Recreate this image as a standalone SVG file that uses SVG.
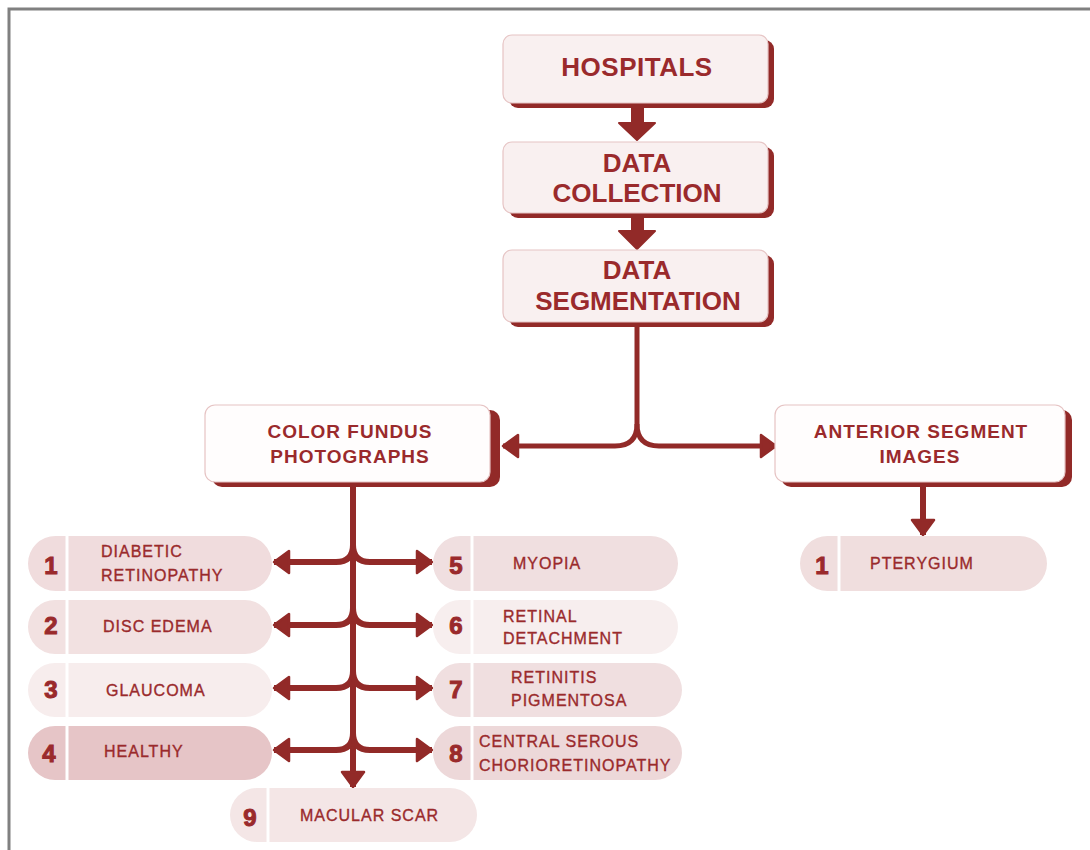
<svg xmlns="http://www.w3.org/2000/svg" width="1090" height="850" viewBox="0 0 1090 850">
<style>
.bg{fill:#ffffff}
.frame{fill:none;stroke:#808080;stroke-width:3}
.shadow{fill:#922A28}
.box{fill:#F9F0F0;stroke:#E6C4C4;stroke-width:1.2}
.boxw{fill:#FFFDFD;stroke:#E6C4C4;stroke-width:1.2}
.hd{font-family:"Liberation Sans",Arial,sans-serif;font-weight:bold;font-size:26px;fill:#9A2A2C;text-anchor:middle}
.hd2{font-family:"Liberation Sans",Arial,sans-serif;font-weight:bold;font-size:19px;letter-spacing:1px;fill:#9A2A2C;text-anchor:middle}
.num{font-family:"Liberation Sans",Arial,sans-serif;font-weight:bold;font-size:24px;fill:#9A2A2C;stroke:#9A2A2C;stroke-width:1;text-anchor:middle}
.lbl{font-family:"Liberation Sans",Arial,sans-serif;font-size:16px;letter-spacing:1px;fill:#9A2A2C;stroke:#9A2A2C;stroke-width:0.35}
.div{stroke:#ffffff;stroke-width:3}
.con{fill:none;stroke:#922A28;stroke-width:6}
.con5{fill:none;stroke:#922A28;stroke-width:5}
.fat{fill:#922A28;stroke:#922A28;stroke-width:2;stroke-linejoin:round}
</style>
<defs>
<marker id="ah" markerUnits="userSpaceOnUse" markerWidth="20" markerHeight="28" refX="17" refY="13" orient="auto" viewBox="0 0 20 28">
<path d="M2,2 L17,13 L2,24 z" fill="#922A28" stroke="#922A28" stroke-width="2.5" stroke-linejoin="round"/>
</marker>
</defs>
<rect class="bg" x="0" y="0" width="1090" height="850"/>
<path class="frame" d="M9,852 L9,9 L1092,9"/>

<g id="connectors">
<polygon class="fat" points="632,107 643,107 643,123 655,123 637,140 619,123 632,123"/>
<polygon class="fat" points="632,218 643,218 643,231 655,231 637,249 619,231 632,231"/>
<path class="con5" d="M637,327 L637,424 Q637,446 615,446 L503,446" marker-end="url(#ah)"/>
<path class="con5" d="M637,424 Q637,446 659,446 L776,446" marker-end="url(#ah)"/>
<path class="con" d="M923,487 L923,535" marker-end="url(#ah)"/>
<path class="con" d="M353,486 L353,787" marker-end="url(#ah)"/>
<path class="con" d="M353,545 Q353,562 336,562 L274,562" marker-end="url(#ah)"/>
<path class="con" d="M353,545 Q353,562 370,562 L432,562" marker-end="url(#ah)"/>
<path class="con" d="M353,608 Q353,625 336,625 L274,625" marker-end="url(#ah)"/>
<path class="con" d="M353,608 Q353,625 370,625 L432,625" marker-end="url(#ah)"/>
<path class="con" d="M353,671 Q353,688 336,688 L274,688" marker-end="url(#ah)"/>
<path class="con" d="M353,671 Q353,688 370,688 L432,688" marker-end="url(#ah)"/>
<path class="con" d="M353,733 Q353,750 336,750 L274,750" marker-end="url(#ah)"/>
<path class="con" d="M353,733 Q353,750 370,750 L432,750" marker-end="url(#ah)"/>
</g>

<g id="hospitals">
<rect class="shadow" x="509" y="40" width="265" height="68" rx="9"/>
<rect class="box" x="503" y="35" width="265" height="68" rx="9"/>
<text class="hd" x="637" y="76" letter-spacing="0.5">HOSPITALS</text>
</g>
<g id="data-collection">
<rect class="shadow" x="509" y="147" width="265" height="71" rx="9"/>
<rect class="box" x="503" y="142" width="265" height="71" rx="9"/>
<text class="hd" x="637" y="172">DATA</text>
<text class="hd" x="637" y="202">COLLECTION</text>
</g>
<g id="data-segmentation">
<rect class="shadow" x="509" y="255" width="265" height="72" rx="9"/>
<rect class="box" x="503" y="250" width="265" height="72" rx="9"/>
<text class="hd" x="637" y="279">DATA</text>
<text class="hd" x="638" y="310">SEGMENTATION</text>
</g>
<g id="color-fundus">
<rect class="shadow" x="212" y="410" width="288" height="77" rx="10"/>
<rect class="boxw" x="205" y="405" width="285" height="77" rx="10"/>
<text class="hd2" x="350" y="438">COLOR FUNDUS</text>
<text class="hd2" x="350" y="463">PHOTOGRAPHS</text>
</g>
<g id="anterior-segment">
<rect class="shadow" x="781" y="410" width="291" height="77" rx="10"/>
<rect class="boxw" x="775" y="405" width="290" height="77" rx="10"/>
<text class="hd2" x="921" y="438">ANTERIOR SEGMENT</text>
<text class="hd2" x="920" y="463">IMAGES</text>
</g>

<g id="p1">
<rect x="28" y="536" width="244" height="55" rx="27.5" fill="#F0DCDD"/>
<line class="div" x1="67" y1="536" x2="67" y2="591"/>
<text class="num" x="51" y="574">1</text>
<text class="lbl" x="101" y="557">DIABETIC</text>
<text class="lbl" x="101" y="581">RETINOPATHY</text>
</g>
<g id="p2">
<rect x="28" y="600" width="244" height="54" rx="27" fill="#F2E1E1"/>
<line class="div" x1="67" y1="600" x2="67" y2="654"/>
<text class="num" x="51" y="634">2</text>
<text class="lbl" x="103" y="632">DISC EDEMA</text>
</g>
<g id="p3">
<rect x="28" y="663" width="244" height="54" rx="27" fill="#F7EDED"/>
<line class="div" x1="67" y1="663" x2="67" y2="717"/>
<text class="num" x="51" y="698">3</text>
<text class="lbl" x="106" y="696">GLAUCOMA</text>
</g>
<g id="p4">
<rect x="28" y="726" width="244" height="54" rx="27" fill="#E6C5C7"/>
<line class="div" x1="67" y1="726" x2="67" y2="780"/>
<text class="num" x="49" y="762">4</text>
<text class="lbl" x="104" y="757">HEALTHY</text>
</g>
<g id="p5">
<rect x="433" y="536" width="245" height="55" rx="27.5" fill="#F0DFE0"/>
<line class="div" x1="472" y1="536" x2="472" y2="591"/>
<text class="num" x="456" y="574">5</text>
<text class="lbl" x="513" y="569">MYOPIA</text>
</g>
<g id="p6">
<rect x="433" y="600" width="245" height="54" rx="27" fill="#F7EEEE"/>
<line class="div" x1="472" y1="600" x2="472" y2="654"/>
<text class="num" x="456" y="634">6</text>
<text class="lbl" x="503" y="622">RETINAL</text>
<text class="lbl" x="503" y="644">DETACHMENT</text>
</g>
<g id="p7">
<rect x="433" y="663" width="249" height="54" rx="27" fill="#F0DFE0"/>
<line class="div" x1="472" y1="663" x2="472" y2="717"/>
<text class="num" x="456" y="698">7</text>
<text class="lbl" x="511" y="683">RETINITIS</text>
<text class="lbl" x="511" y="706">PIGMENTOSA</text>
</g>
<g id="p8">
<rect x="433" y="726" width="249" height="54" rx="27" fill="#EDD8D9"/>
<line class="div" x1="472" y1="726" x2="472" y2="780"/>
<text class="num" x="456" y="762">8</text>
<text class="lbl" x="479" y="747">CENTRAL SEROUS</text>
<text class="lbl" x="479" y="771">CHORIORETINOPATHY</text>
</g>
<g id="p9">
<rect x="230" y="788" width="247" height="54" rx="27" fill="#F4E6E6"/>
<line class="div" x1="268" y1="788" x2="268" y2="842"/>
<text class="num" x="250" y="826">9</text>
<text class="lbl" x="300" y="821">MACULAR SCAR</text>
</g>
<g id="pterygium">
<rect x="800" y="536" width="247" height="55" rx="27.5" fill="#F0DEDE"/>
<line class="div" x1="839" y1="536" x2="839" y2="591"/>
<text class="num" x="822" y="574">1</text>
<text class="lbl" x="870" y="569">PTERYGIUM</text>
</g>
</svg>
